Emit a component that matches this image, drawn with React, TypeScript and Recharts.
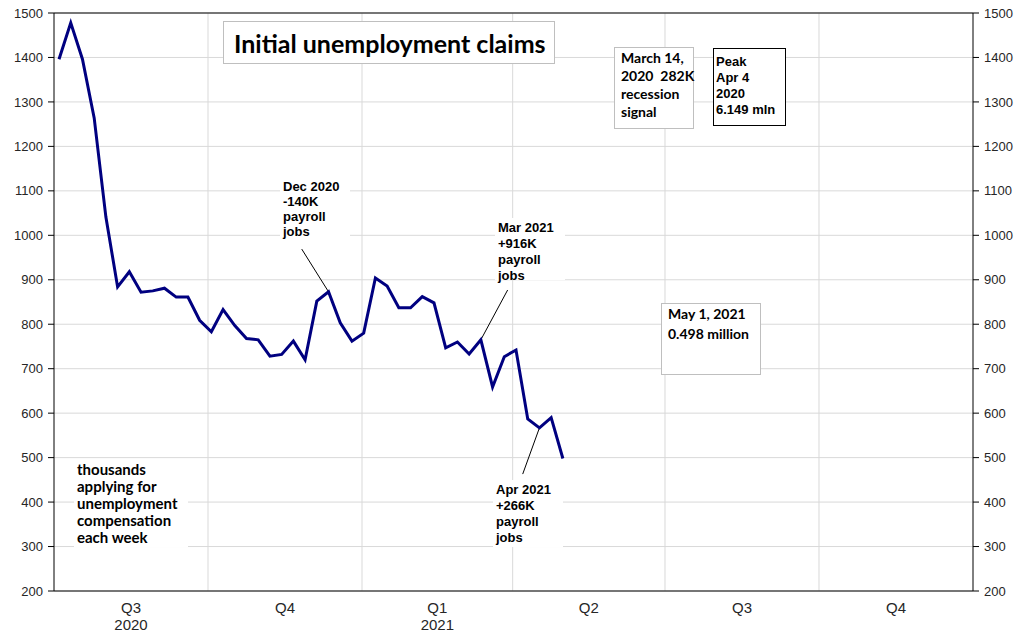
import { LineChart, Line, XAxis, YAxis, CartesianGrid, ReferenceLine } from 'recharts';

// weekly initial claims, thousands; first week ends Jul 4 2020 (day 3 after Jul 1 2020)
const FIRST_WEEK_DAY = 3;
const claims = [
  1396, 1478, 1396, 1264, 1041, 884, 918, 872, 875, 881, 861, 861, 809, 783, 833, 797, 768, 765,
  728, 732, 762, 720, 852, 873, 803, 762, 780, 904, 886, 837, 837, 862, 848, 747, 760, 733, 765,
  659, 727, 742, 587, 567, 590, 498,
];

// days after Jul 1 2020 where each quarter starts
const quarterStarts = [0, 92, 184, 274, 365, 457, 549];
const quarterNames = ['Q3', 'Q4', 'Q1', 'Q2', 'Q3', 'Q4'];
const quarterYears = ['2020', '', '2021', '', '', ''];
const yTicks = [200, 300, 400, 500, 600, 700, 800, 900, 1000, 1100, 1200, 1300, 1400, 1500];

const data = claims.map((v, i) => ({ day: FIRST_WEEK_DAY + 7 * i, claims: v }));
const quarterMids = quarterNames.map((_, i) => (quarterStarts[i] + quarterStarts[i + 1]) / 2);

const ARIAL = '"Liberation Sans", Arial, sans-serif';
const CALIBRI = 'Lato, "Open Sans", sans-serif';
const GRID = '#d9d9d9';

function QuarterTick(props: any) {
  const { x, y, payload } = props;
  const i = quarterMids.findIndex((m) => Math.abs(m - payload.value) < 0.01);
  return (
    <g>
      <text x={x} y={y + 14} textAnchor="middle" fontSize={15} fontFamily={ARIAL} fill="#262626">
        {quarterNames[i]}
      </text>
      {quarterYears[i] && (
        <text x={x} y={y + 31} textAnchor="middle" fontSize={15} fontFamily={ARIAL} fill="#262626">
          {quarterYears[i]}
        </text>
      )}
    </g>
  );
}

interface NoteProps {
  left: number;
  top: number;
  width: number;
  height: number;
  lines: string[];
  font: string;
  size: number;
  lineHeight: number;
  border?: string;
  padX?: number;
  padY?: number;
}

function Note({ left, top, width, height, lines, font, size, lineHeight, border, padX = 3, padY = 2 }: NoteProps) {
  return (
    <div
      style={{
        position: 'absolute',
        left,
        top,
        width,
        height,
        boxSizing: 'border-box',
        background: '#fff',
        border: border ?? 'none',
        padding: `${padY}px ${padX}px`,
        fontFamily: font,
        fontWeight: 'bold',
        fontSize: size,
        lineHeight: `${lineHeight}px`,
        color: '#000',
        whiteSpace: 'pre',
      }}
    >
      {lines.map((l, i) => (
        <div key={i}>{l}</div>
      ))}
    </div>
  );
}

const tickStyle = { fill: '#262626', fontSize: 13, fontFamily: ARIAL };

export default function App() {
  return (
    <div style={{ position: 'absolute', left: 0, top: 0, width: 1031, height: 634, background: '#fff' }}>
      <LineChart width={1031} height={634} data={data} margin={{ top: 13, right: 0, left: 0, bottom: 0 }}>
        <CartesianGrid yAxisId="left" vertical={false} stroke={GRID} />
        {quarterStarts.slice(1, -1).map((d) => (
          <ReferenceLine key={d} x={d} yAxisId="left" stroke={GRID} />
        ))}
        <XAxis
          dataKey="day"
          type="number"
          domain={[0, 549]}
          ticks={quarterMids}
          interval={0}
          tickLine={false}
          stroke="#000"
          height={43}
          tick={<QuarterTick />}
        />
        <YAxis
          yAxisId="left"
          domain={[200, 1500]}
          ticks={yTicks}
          interval={0}
          width={54}
          tickMargin={5}
          stroke="#000"
          tick={tickStyle}
          allowDataOverflow
        />
        <YAxis
          yAxisId="right"
          orientation="right"
          domain={[200, 1500]}
          ticks={yTicks}
          interval={0}
          width={58}
          tickMargin={5}
          stroke="#000"
          tick={tickStyle}
          allowDataOverflow
        />
        <ReferenceLine y={1500} yAxisId="left" stroke="#000" />
        <ReferenceLine yAxisId="left" segment={[{ x: 148, y: 969 }, { x: 164, y: 873 }]} stroke="#000" />
        <ReferenceLine yAxisId="left" segment={[{ x: 271, y: 877 }, { x: 255, y: 765 }]} stroke="#000" />
        <ReferenceLine yAxisId="left" segment={[{ x: 280, y: 463 }, { x: 290, y: 567 }]} stroke="#000" />
        <Line
          yAxisId="left"
          type="linear"
          dataKey="claims"
          stroke="#000080"
          strokeWidth={3}
          dot={false}
          isAnimationActive={false}
        />
      </LineChart>

      <div
        style={{
          position: 'absolute',
          left: 223,
          top: 21,
          width: 332,
          height: 43,
          boxSizing: 'border-box',
          border: '1px solid #bfbfbf',
          background: '#fff',
          display: 'flex',
          alignItems: 'center',
          paddingLeft: 10,
          fontFamily: CALIBRI,
          fontWeight: 'bold',
          fontSize: 25,
          whiteSpace: 'nowrap',
        }}
      >
        Initial unemployment claims
      </div>

      <Note
        left={614}
        top={47}
        width={80}
        height={82}
        lines={['March 14,', '2020  282K', 'recession', 'signal']}
        font={CALIBRI}
        size={14}
        lineHeight={18}
        border="1px solid #bfbfbf"
        padX={6}
        padY={1}
      />
      <Note
        left={713}
        top={48}
        width={73}
        height={78}
        lines={['Peak', 'Apr 4', '2020', '6.149 mln']}
        font={ARIAL}
        size={13}
        lineHeight={16}
        border="1.5px solid #000"
        padX={2}
        padY={5}
      />
      <Note
        left={661}
        top={303}
        width={100}
        height={72}
        lines={['May 1, 2021', '0.498 million']}
        font={CALIBRI}
        size={14}
        lineHeight={20}
        border="1px solid #bfbfbf"
        padX={6}
        padY={0}
      />
      <Note
        left={280}
        top={177}
        width={70}
        height={60}
        lines={['Dec 2020', '-140K', 'payroll', 'jobs']}
        font={ARIAL}
        size={13}
        lineHeight={15}
      />
      <Note
        left={495}
        top={218}
        width={70}
        height={62}
        lines={['Mar 2021', '+916K', 'payroll', 'jobs']}
        font={ARIAL}
        size={13}
        lineHeight={16}
      />
      <Note
        left={493}
        top={480}
        width={70}
        height={67}
        lines={['Apr 2021', '+266K', 'payroll', 'jobs']}
        font={ARIAL}
        size={13}
        lineHeight={16}
      />
      <Note
        left={74}
        top={459}
        width={114}
        height={88}
        lines={['thousands', 'applying for', 'unemployment', 'compensation', 'each week']}
        font={CALIBRI}
        size={15}
        lineHeight={17}
      />
    </div>
  );
}
